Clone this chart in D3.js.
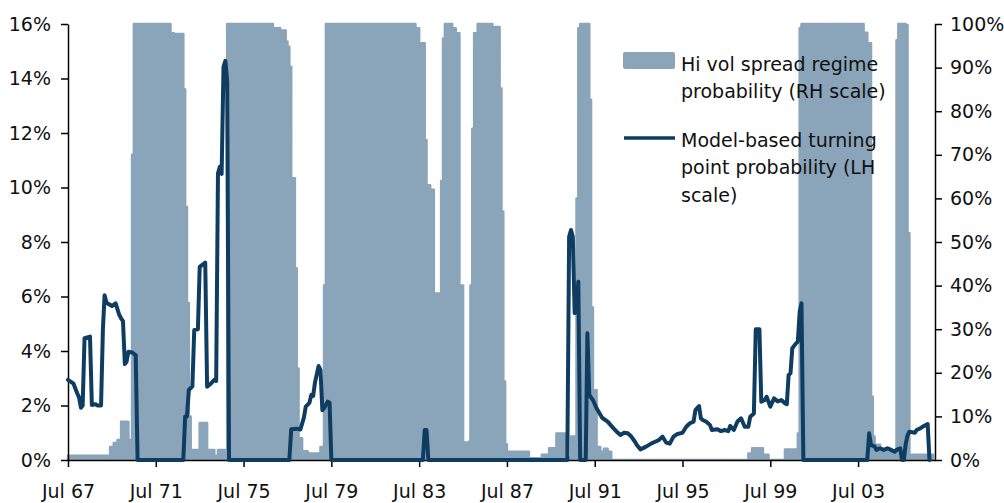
<!DOCTYPE html>
<html>
<head>
<meta charset="utf-8">
<script src="https://cdn.jsdelivr.net/npm/d3@7"></script>
<style>
  html, body { margin: 0; padding: 0; background: #fff; }
  svg text { font-family: "DejaVu Sans", sans-serif; font-size: 19px; fill: #111; }
</style>
</head>
<body>
<svg id="chart" width="1004" height="503"></svg>
<script>
// X axis ticks (every four years, July)
const xTickDates = ["1967-07", "1971-07", "1975-07", "1979-07", "1983-07", "1987-07",
                    "1991-07", "1995-07", "1999-07", "2003-07"];
const xTickLabels = ["Jul 67", "Jul 71", "Jul 75", "Jul 79", "Jul 83", "Jul 87",
                     "Jul 91", "Jul 95", "Jul 99", "Jul 03"];
const leftTicks = [0, 2, 4, 6, 8, 10, 12, 14, 16];          // %
const rightTicks = [0, 10, 20, 30, 40, 50, 60, 70, 80, 90, 100]; // %

// Hi vol spread regime probability (RH scale, %), value holds from each month on
const regimeProb = [
  ["1967-07", 1.0], ["1969-05", 0.4], ["1969-06", 3.0], ["1969-08", 3.9], ["1969-10", 4.6],
  ["1969-12", 8.8], ["1970-04", 4.6], ["1970-06", 70], ["1970-07", 100], ["1972-03", 97.9],
  ["1972-05", 94], ["1972-06", 97.7], ["1972-10", 85], ["1972-11", 58], ["1972-12", 36],
  ["1973-01", 10], ["1973-02", 2.3], ["1973-07", 8.5], ["1973-11", 2.3], ["1974-03", 1.0],
  ["1974-05", 2.3], ["1974-10", 100], ["1976-11", 99], ["1977-03", 98.5], ["1977-06", 96],
  ["1977-07", 94.8], ["1977-08", 90.2], ["1977-09", 64.6], ["1977-11", 44], ["1977-12", 21],
  ["1978-01", 5], ["1978-03", 2], ["1978-06", 1.5], ["1979-01", 3], ["1979-03", 40],
  ["1979-04", 100], ["1983-05", 99], ["1983-07", 95.6], ["1983-10", 73.4], ["1983-11", 63],
  ["1984-01", 62], ["1984-03", 38.2], ["1984-07", 64], ["1984-08", 96.7], ["1984-09", 100],
  ["1985-01", 99], ["1985-03", 97.9], ["1985-05", 40], ["1985-07", 4], ["1985-09", 2],
  ["1985-10", 4.2], ["1985-11", 40], ["1985-12", 76], ["1986-01", 97.9], ["1986-03", 100],
  ["1986-11", 99.3], ["1987-03", 85.2], ["1987-04", 57], ["1987-05", 18], ["1987-06", 3.6],
  ["1987-07", 1.9], ["1988-07", 0.4], ["1989-02", 1.2], ["1989-06", 2.7], ["1989-10", 6.1],
  ["1990-03", 0.5], ["1990-06", 5.4], ["1990-09", 60], ["1990-10", 99], ["1990-11", 100],
  ["1991-04", 82.6], ["1991-05", 35], ["1991-06", 16], ["1991-08", 3], ["1991-10", 1.9],
  ["1991-12", 2.6], ["1992-02", 1.9], ["1992-04", 0], ["1998-07", 1.5], ["1998-09", 2.7],
  ["1999-01", 2.7], ["1999-03", 1.2], ["1999-06", 0], ["2000-03", 2.4], ["2000-10", 6.1],
  ["2000-11", 99], ["2000-12", 100], ["2002-01", 97], ["2002-02", 100], ["2003-10", 98],
  ["2003-12", 95.6], ["2004-02", 14.5], ["2004-03", 5.4], ["2004-04", 3.5], ["2004-07", 2.3],
  ["2005-04", 96.3], ["2005-05", 100], ["2005-09", 99.7], ["2005-10", 52], ["2005-11", 1.2],
  ["2006-12", 0]
];

// Model-based turning point probability (LH scale, %)
const turningProb = [
  ["1967-07", 2.94], ["1967-10", 2.8], ["1967-12", 2.45], ["1968-01", 2.3], ["1968-02", 1.92],
  ["1968-03", 2.0], ["1968-04", 4.47], ["1968-07", 4.53], ["1968-08", 2.02], ["1968-10", 2.05],
  ["1968-11", 2.0], ["1969-01", 2.0], ["1969-02", 4.8], ["1969-03", 6.05], ["1969-04", 5.77],
  ["1969-07", 5.65], ["1969-09", 5.75], ["1969-11", 5.32], ["1969-12", 5.2], ["1970-01", 5.1],
  ["1970-02", 3.52], ["1970-03", 3.6], ["1970-04", 3.97], ["1970-06", 3.95], ["1970-07", 3.9],
  ["1970-08", 3.85], ["1970-09", 0],
  ["1972-10", 0], ["1972-11", 1.6], ["1972-12", 1.6], ["1973-01", 2.57], ["1973-03", 2.7],
  ["1973-04", 4.77], ["1973-06", 4.8], ["1973-07", 7.09], ["1973-10", 7.24], ["1973-11", 2.69],
  ["1974-01", 2.8], ["1974-03", 2.94], ["1974-04", 2.9], ["1974-05", 10.52], ["1974-06", 10.76],
  ["1974-07", 10.5], ["1974-08", 14.43], ["1974-09", 14.65], ["1974-10", 13.9], ["1974-11", 0],
  ["1977-08", 0], ["1977-09", 1.13], ["1977-12", 1.15], ["1978-02", 1.12], ["1978-04", 1.57],
  ["1978-05", 1.96], ["1978-07", 2.1], ["1978-08", 2.39], ["1978-09", 2.35], ["1978-10", 2.84],
  ["1978-12", 3.45], ["1979-01", 3.3], ["1979-02", 1.83], ["1979-03", 1.9], ["1979-05", 2.14],
  ["1979-06", 2.1], ["1979-07", 0],
  ["1983-09", 0], ["1983-10", 1.1], ["1983-11", 1.1], ["1983-12", 0],
  ["1990-04", 0], ["1990-05", 8.19], ["1990-06", 8.44], ["1990-07", 8.2], ["1990-08", 5.39],
  ["1990-09", 5.5], ["1990-10", 6.54], ["1990-11", 0], ["1991-02", 0], ["1991-03", 4.65],
  ["1991-04", 2.39], ["1991-06", 2.2], ["1991-08", 1.9], ["1991-11", 1.55], ["1992-02", 1.41],
  ["1992-05", 1.18], ["1992-07", 1.04], ["1992-09", 0.92], ["1992-11", 1.0], ["1993-01", 0.98],
  ["1993-03", 0.86], ["1993-05", 0.67], ["1993-06", 0.55], ["1993-08", 0.39], ["1993-11", 0.49],
  ["1994-02", 0.61], ["1994-04", 0.67], ["1994-06", 0.73], ["1994-08", 0.86], ["1994-10", 0.64],
  ["1994-12", 0.6], ["1995-02", 0.86], ["1995-04", 0.95], ["1995-07", 1.0], ["1995-09", 1.22],
  ["1995-11", 1.35], ["1996-01", 1.41], ["1996-02", 1.83], ["1996-04", 1.98], ["1996-05", 1.53],
  ["1996-06", 1.47], ["1996-08", 1.4], ["1996-10", 1.28], ["1996-11", 1.1], ["1997-02", 1.13],
  ["1997-04", 1.06], ["1997-06", 1.1], ["1997-08", 1.06], ["1997-09", 1.25], ["1997-11", 1.1],
  ["1998-01", 1.41], ["1998-03", 1.53], ["1998-05", 1.22], ["1998-07", 1.22], ["1998-08", 1.59],
  ["1998-10", 1.71], ["1998-11", 4.8], ["1999-01", 4.8], ["1999-02", 2.14], ["1999-04", 2.2],
  ["1999-05", 2.32], ["1999-07", 1.96], ["1999-09", 2.26], ["1999-11", 2.15], ["2000-01", 2.2],
  ["2000-03", 2.08], ["2000-04", 2.05], ["2000-05", 3.12], ["2000-06", 3.18], ["2000-07", 4.1],
  ["2000-09", 4.28], ["2000-10", 4.34], ["2000-11", 5.44], ["2000-12", 5.75], ["2001-01", 0],
  ["2003-12", 0], ["2004-01", 0.98], ["2004-02", 0.55], ["2004-04", 0.5], ["2004-05", 0.37],
  ["2004-07", 0.43], ["2004-09", 0.37], ["2004-11", 0.43], ["2005-01", 0.37], ["2005-03", 0.3],
  ["2005-04", 0.37], ["2005-06", 0.43], ["2005-07", 0], ["2005-08", 0], ["2005-09", 0.6],
  ["2005-10", 0.9], ["2005-11", 1.04], ["2006-02", 1.0], ["2006-03", 1.1], ["2006-05", 1.16],
  ["2006-07", 1.25], ["2006-09", 1.32], ["2006-10", 0]
];

const legendLabels = [
  ["Hi vol spread regime", "probability (RH scale)"],
  ["Model-based turning", "point probability (LH", "scale)"]
];

const barColor = "#8aa4b9";
const lineColor = "#0f3d62";

const parseMonth = d3.utcParse("%Y-%m");
const svg = d3.select("#chart");

const plot = { left: 68, right: 935, top: 24, bottom: 460 };

const x = d3.scaleUtc()
  .domain([parseMonth("1967-07"), parseMonth("2007-01")])
  .range([plot.left, plot.right]);
const yLeft = d3.scaleLinear().domain([0, 16]).range([plot.bottom, plot.top]);
const yRight = d3.scaleLinear().domain([0, 100]).range([plot.bottom, plot.top]);

// clip for the regime area so its outline stays above the baseline
svg.append("defs").append("clipPath").attr("id", "plotClip")
  .append("rect")
  .attr("x", plot.left - 5).attr("y", 0)
  .attr("width", plot.right - plot.left + 10).attr("height", plot.bottom);

// regime probability columns
const regimeArea = d3.area()
  .curve(d3.curveStepAfter)
  .x(d => x(parseMonth(d[0])))
  .y0(yRight(0))
  .y1(d => yRight(d[1]));

svg.append("path")
  .datum(regimeProb)
  .attr("clip-path", "url(#plotClip)")
  .attr("d", regimeArea)
  .attr("fill", barColor)
  .attr("stroke", barColor)
  .attr("stroke-width", 2.5)
  .attr("stroke-linejoin", "round");

// axes
const axisStyle = g => {
  g.selectAll("path.domain").attr("stroke", "#000").attr("stroke-width", 1.5);
  g.selectAll(".tick line").attr("stroke", "#000").attr("stroke-width", 1.5);
};

svg.append("g")
  .attr("transform", `translate(${plot.left},0)`)
  .call(d3.axisLeft(yLeft).tickValues(leftTicks).tickFormat(d => d + "%")
    .tickSize(7).tickSizeOuter(0).tickPadding(10))
  .call(axisStyle);

svg.append("g")
  .attr("transform", `translate(${plot.right},0)`)
  .call(d3.axisRight(yRight).tickValues(rightTicks).tickFormat(d => d + "%")
    .tickSize(7).tickSizeOuter(0).tickPadding(8))
  .call(axisStyle);

svg.append("g")
  .attr("transform", `translate(0,${plot.bottom})`)
  .call(d3.axisBottom(x).tickValues(xTickDates.map(parseMonth))
    .tickFormat((d, i) => xTickLabels[i])
    .tickSize(7).tickSizeOuter(0).tickPadding(18))
  .call(axisStyle);

// turning point probability line
const line = d3.line()
  .x(d => x(parseMonth(d[0])))
  .y(d => yLeft(d[1]));

svg.append("path")
  .datum(turningProb)
  .attr("d", line)
  .attr("fill", "none")
  .attr("stroke", lineColor)
  .attr("stroke-width", 4)
  .attr("stroke-linejoin", "round")
  .attr("stroke-linecap", "round");

// legend
const legend = svg.append("g");
legend.append("rect")
  .attr("x", 623).attr("y", 52).attr("width", 52).attr("height", 17)
  .attr("rx", 2).attr("fill", barColor);
legend.append("line")
  .attr("x1", 624).attr("x2", 675).attr("y1", 138).attr("y2", 138)
  .attr("stroke", lineColor).attr("stroke-width", 3.5);

const legendBaselines = [[71, 98], [147, 174, 202]];
legendLabels.forEach((lines, i) => {
  lines.forEach((t, j) => {
    legend.append("text")
      .attr("x", 681).attr("y", legendBaselines[i][j])
      .text(t);
  });
});
</script>
</body>
</html>
